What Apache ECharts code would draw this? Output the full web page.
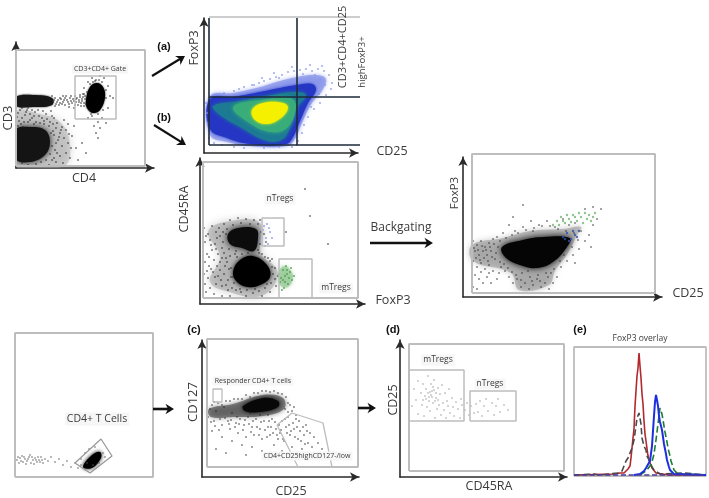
<!DOCTYPE html>
<html>
<head>
<meta charset="utf-8">
<style>
  html, body { margin: 0; padding: 0; background: #fff; }
  #main { width: 709px; height: 498px; filter: blur(0.6px); }
</style>
<script src="https://cdn.jsdelivr.net/npm/echarts@6/dist/echarts.min.js"></script>
</head>
<body>
<div id="main"></div>
<script>
// all values are channel numbers

// CD3 / CD4
const cd4Frame = [[0, 2], [129, 2], [129, 118], [0, 118], [0, 2]];
const cd4Gate = [[59, 49], [100, 49], [100, 92], [59, 92], [59, 49]];
const cd4Core = [[70, 68], [74, 81], [81, 85], [87, 81], [89, 71], [84, 58], [77, 55], [71, 60]];
const cd4BandCore = [[0, 71], [17, 73], [36, 70], [36, 63], [17, 61], [0, 62]];
const cd4LowHalo = [[0, 56], [24, 54], [44, 46], [54, 24], [48, 2], [0, 2]];
const cd4LowCore = [[0, 38], [14, 41], [29, 38], [34, 26], [29, 13], [14, 6], [0, 9]];
const cd4Dots = [[38, 68], [41, 66], [44, 70], [46, 64], [48, 68], [50, 72], [52, 66], [54, 70], [56, 65], [57, 69], [59, 72], [60, 66], [61, 70], [62, 63], [63, 68], [64, 73], [65, 65], [66, 69], [67, 74], [68, 62], [43, 63], [47, 72], [53, 61], [58, 60], [36, 72], [39, 62], [68, 80], [72, 86], [76, 90], [80, 88], [84, 92], [88, 90], [92, 82], [94, 72], [92, 60], [86, 50], [82, 46], [78, 42], [76, 52], [72, 50], [84, 40], [80, 35], [82, 30], [90, 45], [97, 70], [2, 55], [6, 50], [10, 56], [14, 48], [18, 52], [22, 58], [26, 50], [30, 54], [34, 46], [38, 50], [4, 58], [12, 60], [20, 46], [28, 47], [40, 40], [44, 35], [42, 28], [46, 22], [48, 30], [50, 15], [52, 25], [54, 10], [44, 12], [40, 6], [47, 5], [56, 32], [60, 20], [62, 8], [58, 42], [52, 44], [66, 25], [70, 15], [36, 52], [48, 48], [8, 46], [16, 58],
    [37, 66], [39, 70], [40, 64], [42, 68], [44, 65], [45, 69], [47, 66], [49, 63], [49, 70], [51, 68], [53, 64], [55, 67], [55, 72], [58, 67], [59, 63], [60, 69], [63, 66], [64, 71], [65, 62], [66, 67], [67, 71], [68, 65], [69, 69], [69, 72], [70, 64], [79, 87], [83, 88], [77, 86], [86, 86], [74, 84], [71, 76], [68, 74], [90, 78], [90, 70], [87, 58], [82, 54], [75, 54],
    [37, 37], [38, 33], [40, 25], [39, 18], [38, 10], [36, 8], [41, 15], [43, 31], [45, 38], [37, 44], [33, 42], [28, 44], [24, 45], [18, 44], [12, 46], [5, 44], [3, 47], [1, 51], [9, 53], [16, 50], [23, 52], [31, 49], [35, 57], [27, 57], [19, 56], [11, 58], [6, 60], [14, 54], [35, 35], [36, 22], [34, 14], [30, 8], [25, 6], [20, 4], [12, 3], [6, 5], [33, 3], [2, 42], [7, 41], [41, 45], [46, 41], [50, 38], [53, 34], [55, 20]];

// FoxP3 / CD25 density
const densHalo = [[6, 57], [29, 60], [56, 66], [76, 72], [93, 76], [113, 78], [122, 74], [118, 62], [108, 50], [98, 30], [91, 14], [83, 7], [46, 7], [23, 11], [6, 18]];
const densBlue = [[6, 54], [29, 56], [56, 61], [76, 65], [93, 68], [108, 69], [112, 63], [104, 50], [96, 32], [89, 16], [82, 9], [46, 9], [23, 15], [6, 24]];
const densTeal = [[9, 47], [36, 52], [63, 57], [89, 61], [102, 58], [92, 44], [87, 28], [79, 14], [63, 12], [36, 26], [16, 38]];
const densGreen = [[29, 46], [56, 53], [86, 55], [92, 46], [83, 25], [66, 21], [44, 31]];
const densYellow = [[48, 43], [59, 50], [79, 50], [84, 45], [77, 35], [63, 29], [51, 33]];
const densDots = [[20, 60], [30, 62], [40, 66], [48, 68], [55, 70], [60, 72], [66, 74], [72, 76], [78, 78], [84, 81], [90, 82], [96, 83], [102, 84], [108, 82], [114, 84], [120, 82], [125, 78], [128, 70], [127, 64], [122, 58], [116, 50], [110, 44], [104, 36], [100, 28], [98, 20], [94, 12], [4, 30], [3, 40], [2, 50], [5, 15], [10, 10], [18, 8], [30, 6], [40, 5], [60, 5], [75, 6], [88, 6], [50, 68], [70, 80], [88, 86], [106, 88], [118, 87], [35, 64], [58, 75], [75, 75], [99, 79], [111, 78], [117, 74], [121, 68], [115, 59], [107, 46], [93, 8]];
const quadVertical = [[93, 8], [93, 135]];
const quadHorizontal = [[5, 56], [159, 56]];
const quadLeft = [[5, 8], [5, 135]];
const quadBottom = [[5, 8], [159, 8]];
const quadTop = [[5, 136], [159, 136]];

// CD45RA / FoxP3
const raFrame = [[3, 6], [158, 6], [158, 142], [3, 142], [3, 6]];
const raNGate = [[62, 58], [84, 58], [84, 86], [62, 86], [62, 58]];
const raMGate = [[79, 6], [112, 6], [112, 45], [79, 45], [79, 6]];
const raHalo = [[8, 72], [25, 82], [60, 81], [61, 51], [77, 34], [73, 17], [57, 7], [33, 11], [10, 22], [20, 47]];
const raUpper = [[28, 70], [38, 76], [56, 75], [58, 66], [54, 53], [42, 56], [30, 60]];
const raLower = [[33, 32], [40, 44], [53, 48], [67, 39], [70, 27], [60, 19], [48, 17], [37, 22]];
const raGreenBlob = [[79, 33], [85, 38], [91, 33], [93, 26], [88, 17], [80, 19]];
const raDots = [[4, 76], [8, 70], [12, 78], [16, 72], [5, 62], [10, 64], [15, 60], [20, 68], [3, 54], [7, 50], [12, 54], [18, 50], [22, 56], [5, 42], [9, 38], [14, 44], [20, 42], [25, 38], [4, 30], [8, 26], [13, 32], [18, 28], [24, 30], [5, 20], [10, 16], [16, 20], [22, 18], [28, 14], [6, 12], [14, 10], [22, 8], [30, 8], [38, 6], [46, 8], [54, 6], [62, 8], [70, 12], [76, 18], [78, 28], [75, 36], [68, 46], [62, 50], [30, 84], [38, 86], [46, 85], [54, 84], [24, 80], [60, 84], [64, 70], [66, 62], [72, 45], [110, 88], [86, 72], [30, 48], [35, 50], [26, 46], [33, 62], [20, 34], [28, 24], [32, 16],
    [6, 68], [11, 59], [17, 66], [23, 62], [26, 70], [19, 76], [9, 47], [16, 55], [24, 51], [29, 55], [17, 38], [22, 46], [27, 42], [31, 36], [11, 35], [7, 33], [15, 27], [21, 24], [26, 19], [31, 27], [34, 21], [36, 14], [41, 12], [47, 14], [53, 11], [59, 13], [65, 16], [71, 21], [73, 30], [72, 37], [70, 43], [65, 47], [59, 51], [48, 51], [42, 50], [36, 53], [58, 54], [60, 60], [61, 72], [58, 80], [50, 80], [41, 81], [33, 79], [27, 75], [23, 72], [37, 47], [29, 35], [33, 27], [40, 15], [55, 15], [67, 20], [75, 25], [105, 115], [128, 60]];
const raBlueDots = [[60, 62], [62, 70], [64, 78], [66, 66], [68, 60], [70, 72], [63, 74], [67, 80], [61, 66], [65, 58], [72, 66], [69, 76]];
const raGreenDots = [[79, 30], [81, 26], [83, 34], [85, 22], [87, 30], [89, 26], [91, 36], [84, 16], [88, 20], [80, 22], [86, 38], [92, 24], [82, 14], [90, 32], [85, 28], [83, 24], [87, 34], [94, 28]];

// backgating
const backFrame = [[9, 4], [192, 4], [192, 143], [9, 143], [9, 4]];
const backHalo = [[9, 52], [40, 59], [67, 66], [100, 68], [118, 70], [114, 62], [105, 44], [92, 26], [86, 12], [56, 7], [48, 24], [10, 36]];
const backCore = [[39, 50], [60, 57], [80, 60], [107, 59], [104, 50], [90, 35], [74, 29], [57, 32], [42, 40]];
const backDots = [[10, 56], [14, 52], [18, 56], [22, 50], [26, 54], [30, 58], [12, 46], [16, 42], [20, 46], [24, 42], [28, 46], [32, 38], [10, 36], [14, 30], [18, 34], [22, 28], [26, 32], [30, 26], [12, 22], [16, 18], [20, 14], [24, 20], [28, 14], [34, 18], [10, 10], [14, 8], [38, 30], [42, 26], [46, 20], [50, 14], [54, 18], [58, 10], [62, 14], [66, 8], [70, 12], [74, 18], [78, 10], [82, 14], [86, 8], [90, 14], [94, 20], [88, 24], [98, 30], [104, 36], [110, 42], [116, 48], [112, 34], [122, 56], [118, 66], [126, 62], [130, 72], [134, 78], [138, 88], [130, 90], [122, 88], [84, 76], [76, 72], [68, 76], [60, 70], [52, 66], [46, 72], [40, 64], [34, 60], [92, 70], [100, 78], [106, 72], [112, 74], [70, 66], [128, 50], [60, 92], [50, 80],
    [11, 49], [15, 47], [19, 51], [23, 47], [27, 50], [31, 53], [35, 50], [13, 39], [17, 37], [21, 39], [25, 36], [29, 40], [33, 44], [37, 35], [41, 33], [45, 29], [49, 25], [53, 22], [37, 56], [43, 59], [49, 62], [55, 64], [63, 67], [71, 69], [79, 71], [87, 71], [95, 68], [103, 66], [111, 64], [115, 57], [109, 50], [101, 42], [97, 36], [91, 28], [83, 24], [75, 22], [67, 20], [59, 24], [65, 26], [77, 16], [85, 20], [58, 17], [69, 16], [18, 25], [26, 24], [36, 24]];
const backGreenDots = [[90, 72], [94, 76], [98, 80], [102, 74], [106, 78], [110, 82], [114, 76], [118, 80], [122, 84], [126, 82], [130, 80], [132, 84], [128, 76], [120, 74], [112, 80], [104, 82], [96, 72], [108, 75], [116, 84], [124, 78], [100, 76]];
const backBlueDots = [[100, 60], [104, 64], [108, 58], [112, 62], [116, 66], [106, 56], [110, 66], [102, 58], [114, 60]];

// CD4+ T cells
const tcFrame = [[0, 0], [138, 0], [138, 144], [0, 144], [0, 0]];
const tcGate = [[60, 14], [86, 38], [97, 21], [75, 4], [60, 14]];
const tcCore = [[68, 10], [77, 22], [85, 25], [86, 19], [77, 9]];
const tcDots = [[2, 17], [5, 19], [8, 15], [10, 18], [12, 16], [14, 20], [16, 14], [18, 17], [20, 19], [22, 15], [24, 17], [26, 20], [28, 14], [4, 14], [7, 21], [11, 13], [15, 22], [19, 13], [23, 20], [30, 18], [33, 16], [36, 20], [40, 15], [44, 18], [48, 12], [52, 16], [56, 10], [60, 14], [63, 9], [66, 18], [70, 24], [74, 28], [80, 30], [88, 24], [90, 20], [84, 14], [78, 12], [70, 8], [66, 12], [72, 14], [6, 16], [9, 20], [13, 18], [17, 20], [21, 17], [25, 15], [3, 20], [27, 17]];

// CD127 / CD25
const cdFrame = [[5, 10], [156, 10], [156, 138], [5, 138], [5, 10]];
const cdResponder = [[11, 75], [20, 75], [20, 88], [11, 88], [11, 75]];
const cdLowGate = [[75, 52], [90, 64], [121, 54], [130, 10], [96, 10], [75, 52]];
const cdHalo = [[7, 68], [31, 73], [61, 82], [81, 79], [82, 68], [61, 61], [31, 60], [9, 60]];
const cdCore = [[41, 71], [61, 79], [76, 76], [76, 70], [58, 65], [43, 66]];
const cdDots = [[6, 60], [8, 68], [10, 72], [12, 56], [14, 66], [16, 74], [18, 58], [20, 52], [22, 70], [24, 76], [26, 56], [28, 48], [30, 64], [32, 78], [34, 54], [36, 44], [38, 58], [40, 78], [42, 52], [44, 40], [46, 60], [48, 80], [50, 50], [52, 42], [54, 58], [56, 84], [58, 48], [60, 38], [62, 56], [64, 86], [66, 50], [68, 42], [70, 58], [72, 32], [74, 48], [76, 84], [78, 44], [80, 56], [82, 36], [84, 50], [86, 60], [88, 42], [90, 30], [92, 48], [94, 58], [96, 38], [98, 46], [100, 28], [102, 42], [104, 52], [106, 34], [108, 44], [110, 30], [112, 40], [116, 34], [120, 28], [86, 74], [90, 66], [94, 62], [80, 26], [70, 22], [60, 26], [50, 30], [40, 32], [30, 36], [20, 40], [10, 46], [14, 28], [24, 24], [44, 22], [96, 22], [84, 18], [76, 38], [66, 62], [58, 62], [48, 64],
    [9, 55], [13, 51], [17, 47], [23, 59], [27, 53], [29, 57], [33, 50], [35, 60], [37, 53], [41, 47], [43, 57], [47, 53], [49, 45], [51, 56], [55, 50], [57, 42], [59, 55], [63, 47], [65, 40], [67, 56], [69, 50], [71, 44], [73, 55], [75, 42], [77, 52], [79, 47], [81, 38], [83, 58], [85, 44], [87, 52], [89, 46], [91, 54], [93, 40], [95, 50], [97, 56], [99, 36], [101, 50], [103, 33], [105, 46], [83, 68], [86, 65], [88, 72], [92, 70], [28, 76], [36, 78], [44, 82], [52, 84], [60, 86], [68, 85], [72, 86], [80, 83], [84, 80], [12, 75], [20, 72]];

// CD25 / CD45RA
const dFrame = [[9, 6], [164, 6], [164, 133], [9, 133], [9, 6]];
const dMGate = [[9, 56], [64, 56], [64, 107], [9, 107], [9, 56]];
const dNGate = [[70, 56], [116, 56], [116, 86], [70, 86], [70, 56]];
const dDots = [[12, 71], [14, 88], [16, 77], [18, 63], [18, 96], [21, 84], [22, 72], [23, 93], [24, 61], [25, 81], [26, 88], [27, 70], [28, 101], [29, 76], [30, 85], [30, 66], [31, 93], [32, 80], [33, 74], [34, 87], [35, 59], [34, 97], [36, 79], [37, 68], [38, 89], [39, 72], [40, 83], [41, 62], [42, 92], [43, 74], [44, 67], [45, 84], [46, 59], [47, 76], [48, 71], [49, 88], [50, 64], [52, 79], [53, 70], [54, 61], [56, 75], [58, 68], [60, 59], [61, 78], [62, 72], [65, 67], [67, 74], [69, 62], [71, 71], [74, 64], [76, 73], [78, 65], [80, 76], [82, 61], [84, 71], [86, 78], [88, 66], [92, 74], [94, 62], [96, 71], [98, 78], [100, 65], [104, 72], [108, 67], [28, 84], [32, 86], [26, 78], [36, 84], [31, 82], [35, 76], [29, 80], [33, 90], [23, 77], [38, 77]];

// FoxP3 overlay histograms
const histFrame = [[0, 0], [132, 0], [132, 129], [0, 129], [0, 0]];
const histRed = [[0, 1], [40, 2], [46, 3], [50, 3], [54, 7], [56, 10], [57, 18], [59, 38], [60, 47], [61, 70], [62, 85], [63, 100], [64, 108], [65, 123], [66, 110], [67, 98], [68, 82], [69, 72], [70, 55], [71, 42], [72, 35], [74, 20], [75, 16], [78, 8], [82, 3], [95, 1], [132, 1]];
const histGray = [[0, 1], [20, 2], [26, 1], [35, 2], [44, 3], [48, 5], [50, 10], [52, 15], [54, 18], [56, 23], [58, 28], [60, 36], [62, 50], [63, 58], [65, 63], [67, 52], [68, 38], [70, 30], [72, 26], [73, 20], [76, 14], [78, 9], [80, 6], [86, 2], [110, 3], [132, 1]];
const histBlue = [[60, 1], [66, 2], [70, 5], [72, 8], [74, 9], [76, 15], [78, 30], [79, 45], [80, 60], [81, 74], [82, 81], [83, 76], [84, 70], [85, 60], [86, 54], [87, 50], [88, 46], [90, 32], [92, 22], [93, 16], [95, 9], [96, 6], [100, 2], [132, 1]];
const histGreen = [[66, 1], [72, 5], [76, 10], [78, 14], [80, 22], [82, 36], [83, 44], [85, 60], [86, 68], [88, 62], [90, 50], [91, 44], [93, 34], [94, 28], [96, 20], [97, 15], [100, 6], [104, 2], [132, 1]];
const histBase = [[0, 1], [132, 1]];

// [left, top, width, height, axes shown]
const panels = [
    [16, 42, 138, 126, true],
    [204, 18, 154, 135, true],
    [200, 158, 165, 146, true],
    [463, 157, 199, 140, true],
    [15, 333, 138, 144, false],
    [202, 340, 157, 137, true],
    [400, 340, 167, 137, true],
    [574, 347, 132, 129, false],
];

const GATE = "#bdbdbd";
const INK = "#3b3b3b";
const FONT = "'Open Sans', sans-serif";

function axisFor(panel, i, isX) {
    return {
        gridIndex: i,
        type: "value",
        min: 0,
        max: isX ? panel[2] : panel[3],
        show: panel[4],
        axisLine: {
            show: true,
            onZero: false,
            symbol: ["none", "arrow"],
            symbolSize: [7, 9],
            lineStyle: {color: "#2a2a2a", width: 1.6},
        },
        axisTick: {show: false},
        axisLabel: {show: false},
        splitLine: {show: false},
    };
}

function path(i, data, color, width, dash) {
    return {
        type: "line",
        xAxisIndex: i,
        yAxisIndex: i,
        data: data,
        showSymbol: false,
        clip: false,
        silent: true,
        z: 5,
        lineStyle: {color: color, width: width, type: dash || "solid"},
    };
}

function blob(i, data, color, blur, opacity) {
    return {
        type: "custom",
        xAxisIndex: i,
        yAxisIndex: i,
        data: data,
        silent: true,
        clip: true,
        z: 2,
        renderItem: (params, api) => {
            if (params.dataIndex !== 0) {
                return null;
            }
            return {
                type: "polygon",
                shape: {points: data.map((p) => api.coord(p)), smooth: 0.4},
                style: {fill: color, opacity: opacity, shadowBlur: blur, shadowColor: color},
            };
        },
    };
}

function dots(i, data, color, size, opacity, z) {
    return {
        type: "scatter",
        xAxisIndex: i,
        yAxisIndex: i,
        data: data,
        silent: true,
        z: z || 3,
        symbolSize: size,
        itemStyle: {color: color, opacity: opacity},
    };
}

const series = [
    path(0, cd4Frame, GATE, 2),
    blob(0, cd4LowHalo, "#9a9a9a", 8, 0.4),
    dots(0, cd4Dots, "#222", 2, 0.6),
    blob(0, cd4BandCore, "#161616", 2, 1),
    blob(0, cd4LowCore, "#141414", 6, 1),
    blob(0, cd4Core, "#000", 2, 1),
    path(0, cd4Gate, GATE, 1.5),

    path(1, quadTop, GATE, 1.5),
    dots(1, densDots, "#8696ea", 2.2, 0.75),
    blob(1, densHalo, "#6f80e6", 4, 0.55),
    blob(1, densBlue, "#2536c4", 3, 1),
    blob(1, densTeal, "#1c7a93", 4, 1),
    blob(1, densGreen, "#39ad79", 4, 1),
    blob(1, densYellow, "#f5f000", 3, 1),
    path(1, quadVertical, "#1d2a3a", 1.6),
    path(1, quadHorizontal, "#1d2a3a", 1.6),
    path(1, quadLeft, "#1d2a3a", 1.6),
    path(1, quadBottom, "#1d2a3a", 1.6),

    path(2, raFrame, GATE, 2),
    blob(2, raHalo, "#8a8a8a", 8, 0.4),
    dots(2, raDots, "#222", 2, 0.6),
    blob(2, raUpper, "#0c0c0c", 7, 1),
    blob(2, raLower, "#000", 5, 1),
    blob(2, raGreenBlob, "#8cc48c", 4, 0.6),
    dots(2, raBlueDots, "#8a90e0", 2, 0.8, 4),
    dots(2, raGreenDots, "#4a9a4a", 2, 0.8, 4),
    path(2, raNGate, GATE, 1.5),
    path(2, raMGate, GATE, 1.5),

    path(3, backFrame, GATE, 2),
    blob(3, backHalo, "#777", 6, 0.4),
    dots(3, backDots, "#333", 2, 0.6),
    blob(3, backCore, "#050505", 6, 1),
    dots(3, backGreenDots, "#76b576", 2.4, 0.8, 4),
    dots(3, backBlueDots, "#3050b0", 2.4, 0.8, 4),

    path(4, tcFrame, GATE, 2),
    dots(4, tcDots, "#555", 1.8, 0.6),
    blob(4, tcCore, "#000", 4, 1),
    path(4, tcGate, "#9a9a9a", 1.3),

    path(5, cdFrame, GATE, 2),
    blob(5, cdHalo, "#444", 5, 0.6),
    dots(5, cdDots, "#222", 1.8, 0.6),
    blob(5, cdCore, "#080808", 4, 1),
    path(5, cdResponder, GATE, 1.3),
    path(5, cdLowGate, GATE, 1.3),

    path(6, dFrame, GATE, 2),
    dots(6, dDots, "#777", 1.6, 0.7),
    path(6, dMGate, GATE, 1.5),
    path(6, dNGate, GATE, 1.5),

    path(7, histFrame, GATE, 1.8),
    path(7, histRed, "#b3282c", 1.6),
    path(7, histGray, "#4a4a4a", 1.6, "dashed"),
    path(7, histGreen, "#1f7a35", 1.6, "dashed"),
    path(7, histBlue, "#1c2fe0", 2),
    path(7, histBase, "#4b3a9a", 1.3, "dashed"),
];

function label(text, x, y, size, rotation, boxed) {
    return {
        type: "text",
        x: x,
        y: y,
        rotation: rotation ? Math.PI / 2 : 0,
        z: 100,
        style: {
            text: text,
            x: 0,
            y: 0,
            align: "center",
            verticalAlign: "middle",
            fill: INK,
            font: size + "px " + FONT,
            backgroundColor: boxed ? "#f6f6f6" : undefined,
            padding: boxed ? [1, 2] : 0,
        },
    };
}

function tag(text, x, y) {
    return {
        type: "text",
        x: x,
        y: y,
        z: 100,
        style: {
            text: text,
            align: "center",
            verticalAlign: "middle",
            fill: "#111",
            font: "bold 11px 'Liberation Sans', sans-serif",
        },
    };
}

function arrow(x0, y0, x1, y1, width) {
    const a = Math.atan2(y1 - y0, x1 - x0);
    const head = 10;
    return {
        type: "group",
        z: 100,
        children: [
            {
                type: "line",
                z: 100,
                shape: {x1: x0, y1: y0, x2: x1 - Math.cos(a) * 3, y2: y1 - Math.sin(a) * 3},
                style: {stroke: "#111", lineWidth: width},
            },
            {
                type: "polygon",
                z: 100,
                shape: {points: [
                    [x1, y1],
                    [x1 - head * Math.cos(a - 0.55), y1 - head * Math.sin(a - 0.55)],
                    [x1 - head * 0.6 * Math.cos(a), y1 - head * 0.6 * Math.sin(a)],
                    [x1 - head * Math.cos(a + 0.55), y1 - head * Math.sin(a + 0.55)],
                ]},
                style: {fill: "#111"},
            },
        ],
    };
}

const graphics = [
    label("CD3", 8, 118, 13, true),
    label("CD4", 84, 178, 12.5),
    label("CD3+CD4+ Gate", 100, 69, 7, false, true),
    label("FoxP3", 194, 48, 12.5, true),
    label("CD25", 392, 151, 12.5),
    label("CD3+CD4+CD25", 343, 47, 11, true),
    label("highFoxP3+", 362, 62, 9.5, true),
    label("CD45RA", 184, 209, 12.5, true),
    label("FoxP3", 393, 300, 12.5),
    label("nTregs", 280, 199, 8.5, false, true),
    label("mTregs", 336, 288, 8.5, false, true),
    label("Backgating", 401, 228, 12),
    label("FoxP3", 455, 193, 11.5, true),
    label("CD25", 688, 293, 12.5),
    label("CD4+ T Cells", 97, 419, 10.5, false, true),
    label("CD127", 193, 402, 13, true),
    label("CD25", 291, 491, 12.5),
    label("Responder CD4+ T cells", 253, 381, 7, false, true),
    label("CD4+CD25highCD127-/low", 307, 456, 7, false, true),
    label("CD25", 393, 400, 12.5, true),
    label("CD45RA", 489, 486, 12.5),
    label("mTregs", 438, 360, 8.5, false, true),
    label("nTregs", 490, 384, 8.5, false, true),
    label("FoxP3 overlay", 640, 339, 8.5),
    tag("(a)", 164, 47),
    tag("(b)", 164, 118),
    tag("(c)", 194, 330),
    tag("(d)", 393, 330),
    tag("(e)", 580, 330),
    arrow(152, 76, 185, 56, 2.2),
    arrow(154, 125, 186, 145, 2.2),
    arrow(370, 243, 433, 243, 2.6),
    arrow(153, 409, 174, 409, 2.6),
    arrow(358, 408, 376, 408, 2.6),
];

const chart = echarts.init(document.getElementById("main"), null, {renderer: "canvas"});
chart.setOption({
    animation: false,
    backgroundColor: "#fff",
    grid: panels.map((p) => ({left: p[0], top: p[1], width: p[2], height: p[3], containLabel: false})),
    xAxis: panels.map((p, i) => axisFor(p, i, true)),
    yAxis: panels.map((p, i) => axisFor(p, i, false)),
    series: series,
    graphic: graphics,
});
</script>
</body>
</html>
